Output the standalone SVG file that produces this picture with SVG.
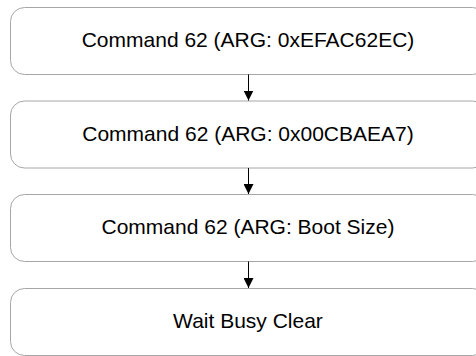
<svg xmlns="http://www.w3.org/2000/svg" width="476" height="356" viewBox="0 0 476 356">
<style>
.box{fill:#fff;stroke:#a6a6a6;stroke-width:1}
.lbl{font-family:"Liberation Sans",Arial,sans-serif;font-size:21px;fill:#000;text-anchor:middle}
.edge{stroke:#000;stroke-width:1;fill:none}
</style>
<defs>
<marker id="ah" viewBox="0 0 10 10" refX="10" refY="5" markerWidth="10" markerHeight="10" markerUnits="userSpaceOnUse" orient="auto">
<path d="M0,0L10,5L0,10z" fill="#000"/>
</marker>
</defs>
<rect width="476" height="356" fill="#fff"/>
<g id="n1"><rect class="box" x="10.5" y="7.5" width="476" height="67" rx="14"/><text class="lbl" x="248" y="47">Command 62 (ARG: 0xEFAC62EC)</text></g>
<g id="n2"><rect class="box" x="10.5" y="101" width="476" height="67" rx="14"/><text class="lbl" x="248" y="140.5">Command 62 (ARG: 0x00CBAEA7)</text></g>
<g id="n3"><rect class="box" x="10.5" y="194.5" width="476" height="67" rx="14"/><text class="lbl" x="248" y="234">Command 62 (ARG: Boot Size)</text></g>
<g id="n4"><rect class="box" x="10.5" y="288.5" width="476" height="67" rx="14"/><text class="lbl" x="248" y="328">Wait Busy Clear</text></g>
<g id="edges">
<line class="edge" x1="248.5" y1="74.5" x2="248.5" y2="100.5" marker-end="url(#ah)"/>
<line class="edge" x1="248.5" y1="168" x2="248.5" y2="194" marker-end="url(#ah)"/>
<line class="edge" x1="248.5" y1="261.5" x2="248.5" y2="288" marker-end="url(#ah)"/>
</g>
</svg>
